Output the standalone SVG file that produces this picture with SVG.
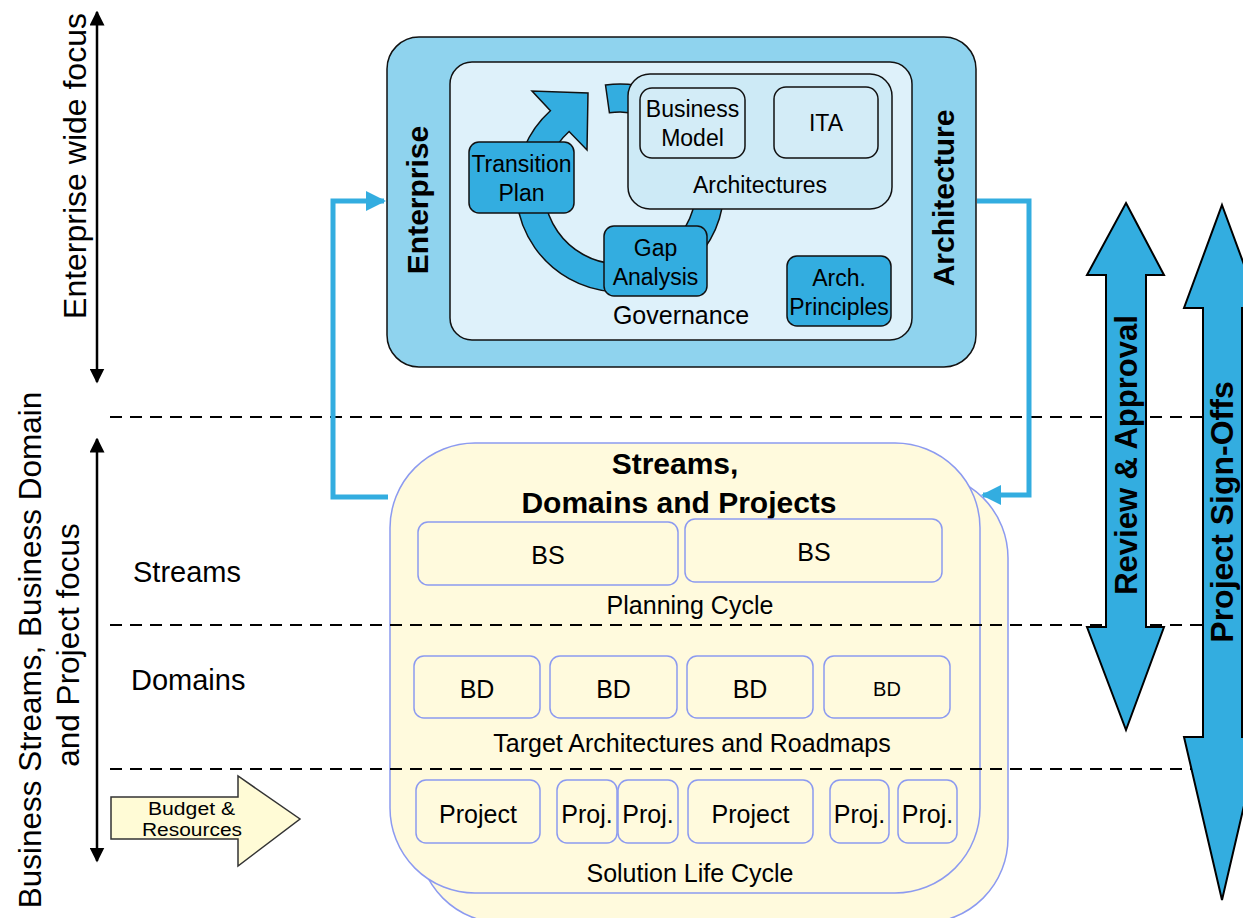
<svg xmlns="http://www.w3.org/2000/svg" width="1243" height="918" viewBox="0 0 1243 918">
  <defs>
    <style>
      text { font-family: "Liberation Sans", Arial, sans-serif; fill: #000; }
      .c { text-anchor: middle; }
      .b { font-weight: bold; }
      .ea-outer { fill: #8fd3ee; stroke: #111; stroke-width: 1.5; }
      .ea-inner { fill: #def1fa; stroke: #111; stroke-width: 1.5; }
      .ea-arch { fill: #cdeaf6; stroke: #111; stroke-width: 1.5; }
      .ea-box { fill: #d3ecf7; stroke: #111; stroke-width: 1.5; }
      .ea-blue { fill: #33ade0; stroke: #111; stroke-width: 1.5; }
      .sdp { fill: #fffadd; stroke: #8c9af0; stroke-width: 1.5; }
      .dash { stroke: #000; stroke-width: 2; stroke-dasharray: 12 8; fill: none; }
      .link { stroke: #33ade0; stroke-width: 5; fill: none; }
      .axis { stroke: #000; stroke-width: 2.5; fill: none; }
      .bigarrow { fill: #33ade0; stroke: #000; stroke-width: 2; }
    </style>
    <marker id="blackHead" viewBox="0 0 10 10" refX="9" refY="5" markerWidth="6" markerHeight="6" markerUnits="strokeWidth" orient="auto-start-reverse">
      <path d="M0,0 L10,5 L0,10 Z" fill="#000"/>
    </marker>
    <marker id="blueHead" viewBox="0 0 10 10" refX="9" refY="5" markerWidth="4" markerHeight="4" markerUnits="strokeWidth" orient="auto">
      <path d="M0,0 L10,5 L0,10 Z" fill="#33ade0"/>
    </marker>
  </defs>

  <!-- left focus axes -->
  <g id="focus-axes">
    <line class="axis" x1="97" y1="12" x2="97" y2="382" marker-start="url(#blackHead)" marker-end="url(#blackHead)"/>
    <line class="axis" x1="97" y1="439" x2="97" y2="861" marker-start="url(#blackHead)" marker-end="url(#blackHead)"/>
    <text class="c" font-size="32" transform="translate(86,166) rotate(-90)">Enterprise wide focus</text>
    <text class="c" font-size="31.5" transform="translate(41,650) rotate(-90)">Business Streams, Business Domain</text>
    <text class="c" font-size="31.5" transform="translate(79,645) rotate(-90)">and Project focus</text>
  </g>

  <!-- layer labels -->
  <g id="layer-labels">
    <text x="133" y="582" font-size="29">Streams</text>
    <text x="131" y="690" font-size="29">Domains</text>
  </g>

  <!-- budget input arrow -->
  <g id="budget">
    <polygon points="111,797 238,797 238,776 300,819 238,866 238,839 111,839" fill="#fffbd6" stroke="#333" stroke-width="1.5"/>
    <text x="148" y="815" font-size="18" textLength="87" lengthAdjust="spacingAndGlyphs">Budget &amp;</text>
    <text x="142" y="836" font-size="18" textLength="100" lengthAdjust="spacingAndGlyphs">Resources</text>
  </g>

  <!-- enterprise architecture -->
  <g id="enterprise-architecture">
    <rect class="ea-outer" x="387" y="37" width="589" height="330" rx="32"/>
    <rect class="ea-inner" x="450" y="62" width="462" height="278" rx="22"/>
    <text class="b c" font-size="30" transform="translate(428,200) rotate(-90)">Enterprise</text>
    <text class="b c" font-size="30" transform="translate(954,198) rotate(-90)">Architecture</text>
  </g>

  <!-- governance cycle -->
  <g id="governance-cycle">
    <path class="ea-blue" d="M605.5,85 A104,104 0 1 1 550.4,110.7 L532,91 L588,93 L587,150 L569.1,131.5 A76,76 0 1 0 609.4,112.7 Z"/>
  </g>

  <g id="architectures">
    <rect class="ea-arch" x="628" y="74" width="264" height="135" rx="22"/>
    <text class="c" x="760" y="193" font-size="23">Architectures</text>
  </g>
  <g id="business-model">
    <rect class="ea-box" x="640" y="88" width="105" height="70" rx="12"/>
    <text class="c" x="692.5" y="117" font-size="23">Business</text>
    <text class="c" x="692.5" y="146" font-size="23">Model</text>
  </g>
  <g id="ita">
    <rect class="ea-box" x="774" y="87" width="104" height="71" rx="12"/>
    <text class="c" x="826" y="131" font-size="23">ITA</text>
  </g>
  <g id="transition-plan">
    <rect class="ea-blue" x="469" y="142" width="105" height="71" rx="10"/>
    <text class="c" x="521.5" y="172" font-size="23">Transition</text>
    <text class="c" x="521.5" y="201" font-size="23">Plan</text>
  </g>
  <g id="gap-analysis">
    <rect class="ea-blue" x="604" y="226" width="103" height="70" rx="10"/>
    <text class="c" x="655.5" y="256" font-size="23">Gap</text>
    <text class="c" x="655.5" y="285" font-size="23">Analysis</text>
  </g>
  <g id="arch-principles">
    <rect class="ea-blue" x="787" y="256" width="104" height="70" rx="10"/>
    <text class="c" x="839" y="286" font-size="23">Arch.</text>
    <text class="c" x="839" y="315" font-size="23">Principles</text>
  </g>
  <g id="governance">
    <text class="c" x="681" y="324" font-size="25">Governance</text>
  </g>

  <!-- streams, domains and projects -->
  <g id="sdp">
    <rect class="sdp" x="418" y="473" width="590" height="450" rx="85"/>
    <rect class="sdp" x="390" y="443" width="590" height="450" rx="85"/>
    <text class="b c" x="675" y="474" font-size="30">Streams,</text>
    <text class="b c" x="679" y="513" font-size="30">Domains and Projects</text>
    <text class="c" x="690" y="614" font-size="25">Planning Cycle</text>
    <text class="c" x="692" y="752" font-size="25">Target Architectures and Roadmaps</text>
    <text class="c" x="690" y="882" font-size="25">Solution Life Cycle</text>
  </g>

  <g id="bs-1"><rect class="sdp" x="418" y="522" width="260" height="63" rx="10"/><text class="c" x="548" y="564" font-size="25">BS</text></g>
  <g id="bs-2"><rect class="sdp" x="685" y="519" width="257" height="63" rx="10"/><text class="c" x="814" y="561" font-size="25">BS</text></g>

  <g id="bd-1"><rect class="sdp" x="414" y="656" width="126" height="62" rx="10"/><text class="c" x="477" y="698" font-size="25">BD</text></g>
  <g id="bd-2"><rect class="sdp" x="550" y="656" width="127" height="62" rx="10"/><text class="c" x="613.5" y="698" font-size="25">BD</text></g>
  <g id="bd-3"><rect class="sdp" x="687" y="656" width="126" height="62" rx="10"/><text class="c" x="750" y="698" font-size="25">BD</text></g>
  <g id="bd-4"><rect class="sdp" x="824" y="656" width="126" height="62" rx="10"/><text class="c" x="887" y="696" font-size="20">BD</text></g>

  <g id="project-1"><rect class="sdp" x="416" y="780" width="124" height="63" rx="10"/><text class="c" x="478" y="823" font-size="25">Project</text></g>
  <g id="proj-2"><rect class="sdp" x="557" y="780" width="60" height="63" rx="10"/><text class="c" x="587" y="823" font-size="25">Proj.</text></g>
  <g id="proj-3"><rect class="sdp" x="618" y="780" width="60" height="63" rx="10"/><text class="c" x="648" y="823" font-size="25">Proj.</text></g>
  <g id="project-4"><rect class="sdp" x="688" y="780" width="125" height="63" rx="10"/><text class="c" x="750.5" y="823" font-size="25">Project</text></g>
  <g id="proj-5"><rect class="sdp" x="830" y="780" width="59" height="63" rx="10"/><text class="c" x="859.5" y="823" font-size="25">Proj.</text></g>
  <g id="proj-6"><rect class="sdp" x="898" y="780" width="59" height="63" rx="10"/><text class="c" x="927.5" y="823" font-size="25">Proj.</text></g>

  <!-- horizontal separators, drawn over the level boxes -->
  <g id="separators">
    <line class="dash" x1="110" y1="417" x2="1243" y2="417"/>
    <line class="dash" x1="110" y1="625" x2="1243" y2="625"/>
    <line class="dash" x1="110" y1="769" x2="1225" y2="769"/>
  </g>

  <!-- connectors between the two levels -->
  <g id="connectors">
    <polyline class="link" points="388,497 333,497 333,201 384,201" marker-end="url(#blueHead)"/>
    <polyline class="link" points="977,201 1029,201 1029,495 983,495" marker-end="url(#blueHead)"/>
  </g>

  <!-- review & approval -->
  <g id="review-approval">
    <polygon class="bigarrow" points="1126,203 1164,275 1146,275 1146,627 1164,627 1126,730 1087,627 1106,627 1106,275 1087,275"/>
    <text class="b c" font-size="31" transform="translate(1137,455) rotate(-90)">Review &amp; Approval</text>
  </g>

  <!-- project sign-offs -->
  <g id="project-sign-offs">
    <polygon class="bigarrow" points="1222,205 1260,308 1242,308 1242,737 1260,737 1222,900 1184,737 1203,737 1203,308 1184,308"/>
    <text class="b c" font-size="32" transform="translate(1233,512) rotate(-90)">Project Sign-Offs</text>
  </g>
</svg>
